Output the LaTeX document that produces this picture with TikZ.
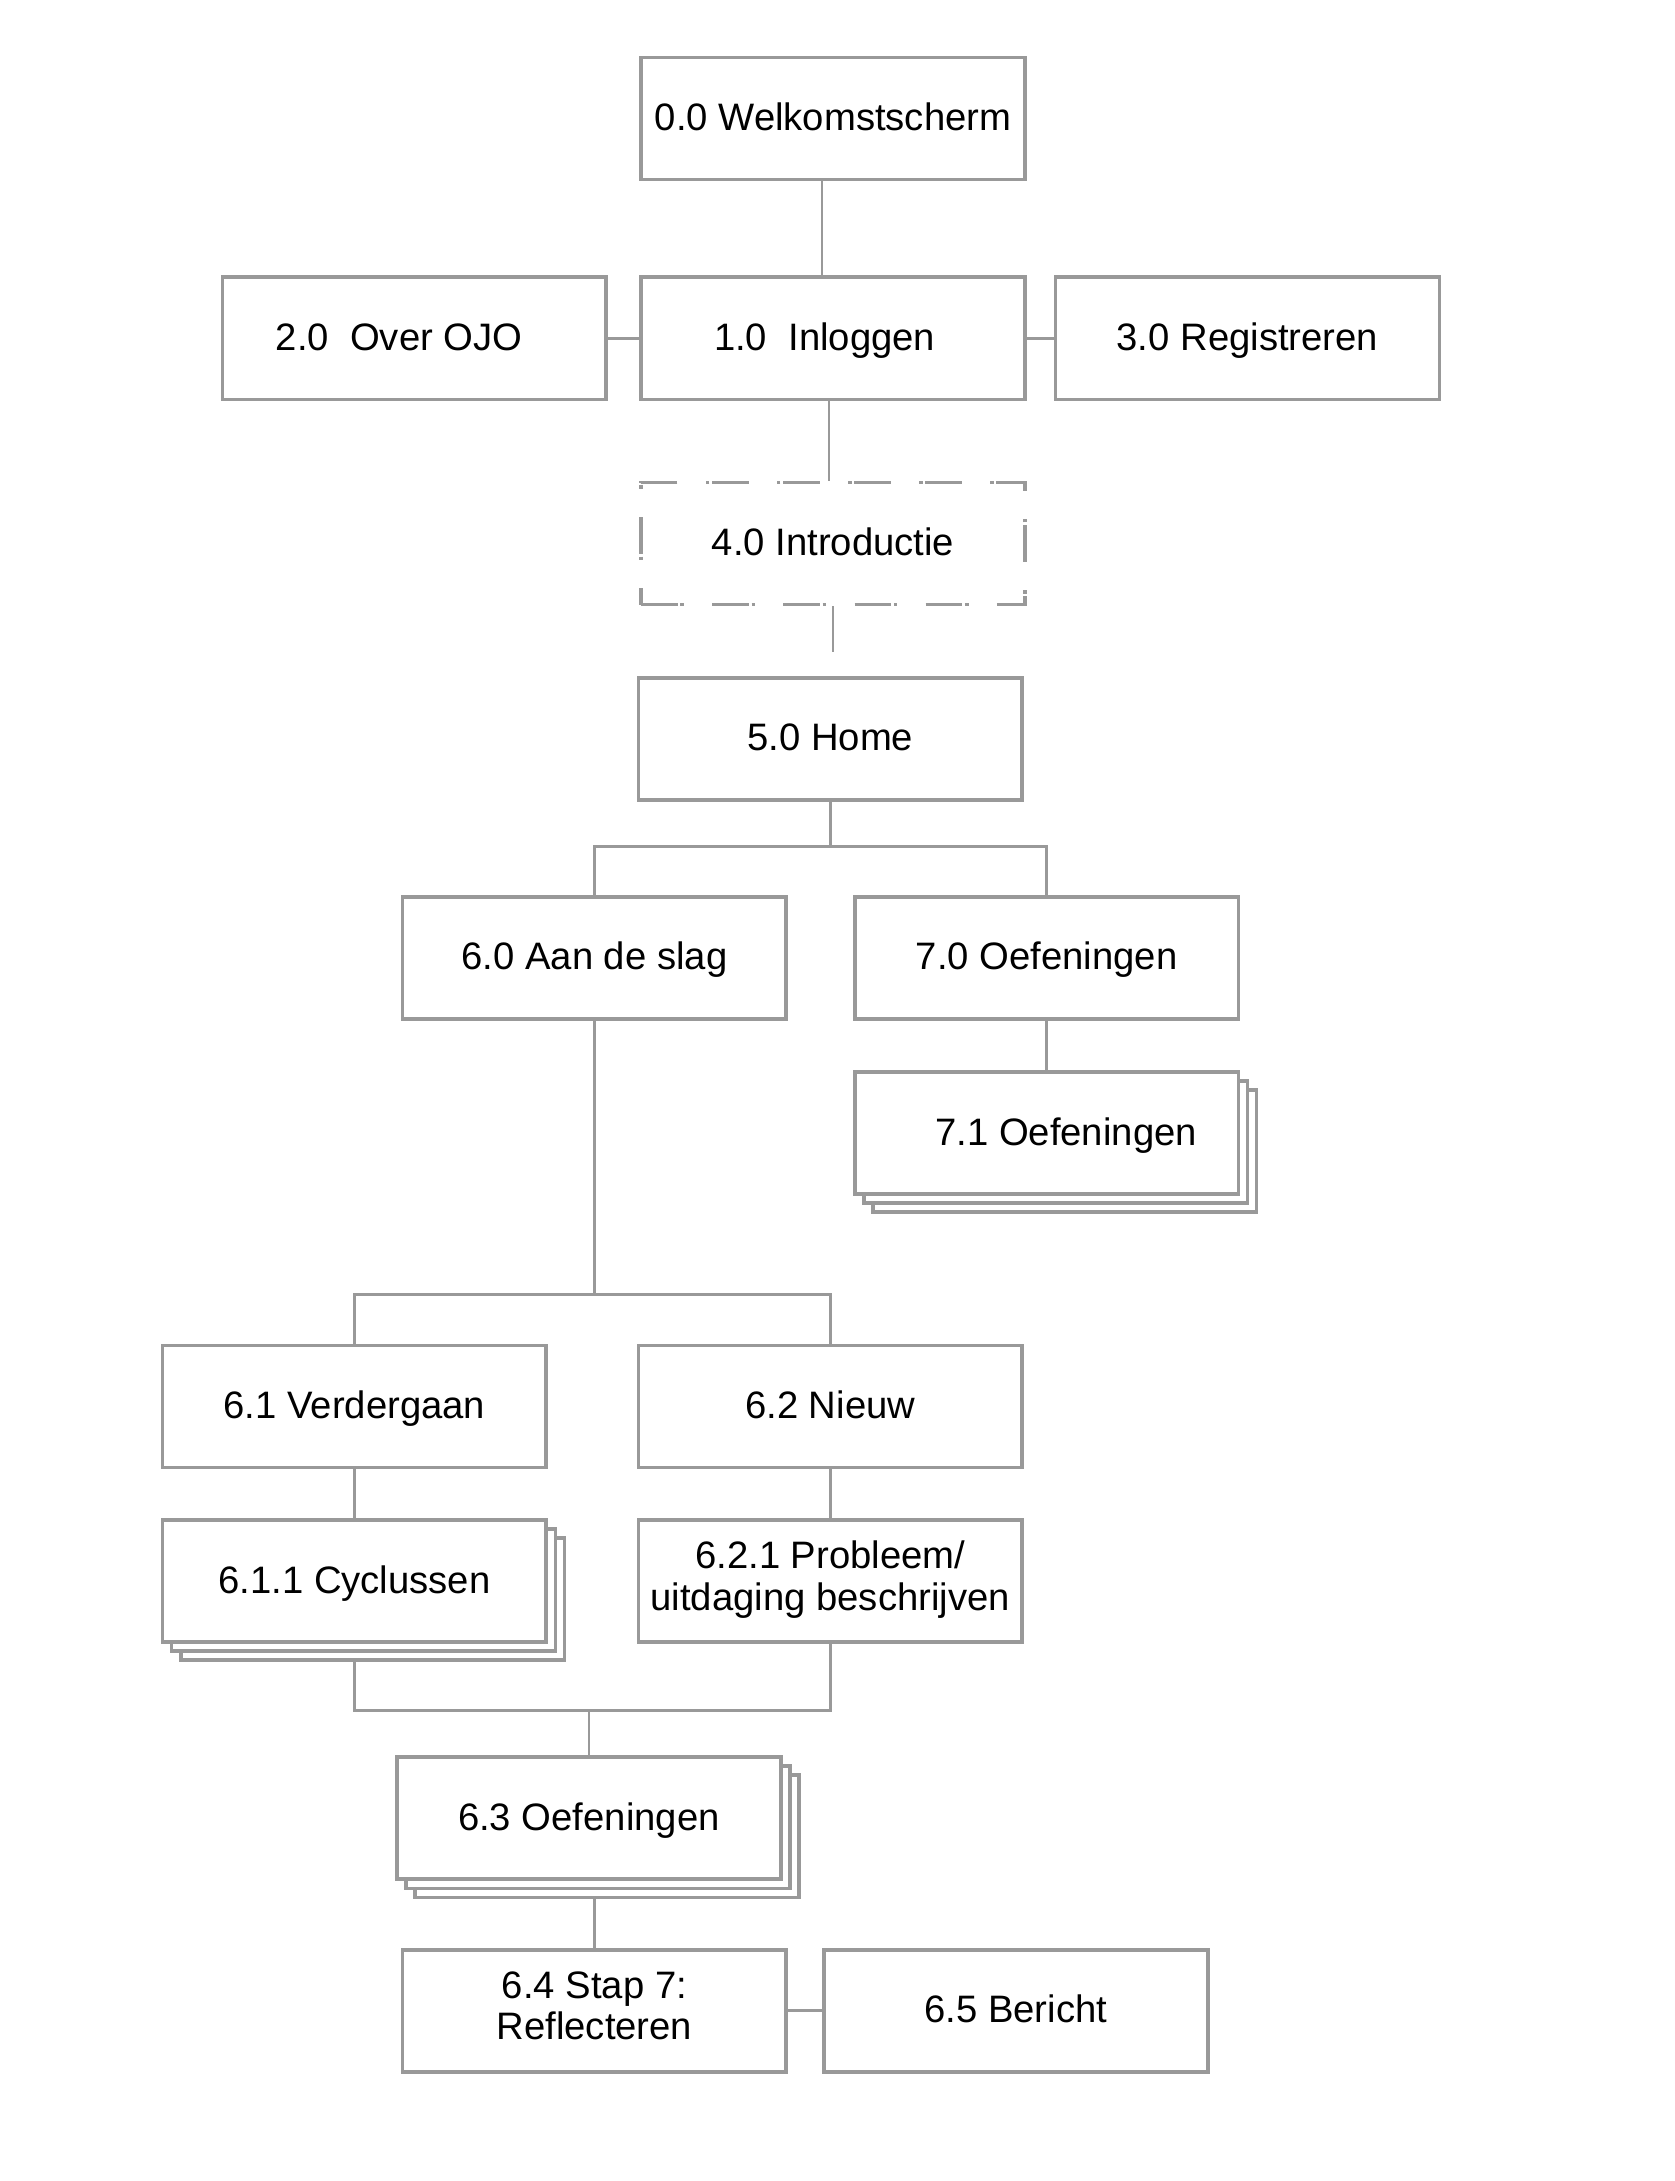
\documentclass[tikz,border=0pt]{standalone}
\usepackage{fontspec}
\setmainfont{Liberation Sans}
\usetikzlibrary{shadows,backgrounds}
\definecolor{boxgray}{RGB}{153,153,153}
\newcommand\boxstrut{\rule[-4.2pt]{0pt}{18.2pt}}
\tikzset{
    box/.style={draw=boxgray, line width=1.5pt, fill=white, minimum width=5.5cm, minimum height=1.75cm, inner sep=0pt, align=center, font=\fontsize{15.6}{17}\selectfont,
        execute at begin node=\boxstrut, execute at end node=\boxstrut},
    stack/.style={box,
        copy shadow={shadow xshift=0.26cm, shadow yshift=-0.26cm, draw=boxgray, line width=1.5pt},
        copy shadow={shadow xshift=0.13cm, shadow yshift=-0.13cm, draw=boxgray, line width=1.5pt}},
    dashbox/.style={box, dash pattern=on 15pt off 1pt on 1.5pt off 11.5pt},
    conn/.style={draw=boxgray, line width=1.1pt}
}
\begin{document}
\begin{tikzpicture}
    \useasboundingbox (0,0) rectangle (24,-31.26);
    \node[box] (00) at (11.94,-1.70) {0.0 Welkomstscherm};
    \node[box] (20) at (5.94,-4.85) {2.0\ \ Over OJO\hspace*{0.44cm}};
    \node[box] (10) at (11.94,-4.85) {1.0\ \ Inloggen\hspace*{0.24cm}};
    \node[box] (30) at (17.88,-4.85) {3.0 Registreren};
    \node[dashbox] (40) at (11.94,-7.79) {4.0 Introductie};
    \node[box] (50) at (11.90,-10.59) {5.0 Home};
    \node[box] (60) at (8.52,-13.73) {6.0 Aan de slag};
    \node[box] (70) at (15.00,-13.73) {7.0 Oefeningen};
    \node[stack] (71) at (15.00,-16.24) {\hspace*{0.56cm}7.1 Oefeningen};
    \node[box] (61) at (5.08,-20.16) {6.1 Verdergaan};
    \node[box] (62) at (11.90,-20.16) {6.2 Nieuw};
    \node[stack] (611) at (5.08,-22.66) {6.1.1 Cyclussen};
    \node[box] (621) at (11.90,-22.66) {6.2.1 Probleem/\\uitdaging beschrijven};
    \node[stack] (63) at (8.44,-26.06) {6.3 Oefeningen};
    \node[box] (64) at (8.52,-28.82) {6.4 Stap 7:\\Reflecteren};
    \node[box] (65) at (14.56,-28.82) {6.5 Bericht};
    \coordinate (gap) at ([yshift=0.34cm]50.north);
    \coordinate (j5) at ([yshift=-0.64cm]50.south);
    \coordinate (j6) at ([yshift=-3.92cm]60.south);
    \coordinate (j63) at ([yshift=0.64cm]63.north);
    \begin{scope}[on background layer]
    \draw[conn] ([xshift=-0.16cm]00.south) -- ([xshift=-0.16cm]10.north);
    \draw[conn] (20.east) -- (10.west);
    \draw[conn] (10.east) -- (30.west);
    \draw[conn] ([xshift=-0.06cm]10.south) -- ([xshift=-0.06cm]40.north);
    \draw[conn] (40.south) -- (40.south |- gap);
    \draw[conn] (50.south) -- (j5);
    \draw[conn] (60.north) |- (j5) -| (70.north);
    \draw[conn] (70.south) -- (71.north);
    \draw[conn] (60.south) -- (j6);
    \draw[conn] (61.north) |- (j6) -| (62.north);
    \draw[conn] (61.south) -- (611.north);
    \draw[conn] (62.south) -- (621.north);
    \draw[conn] (611.south) |- (j63) -| (621.south);
    \draw[conn] (j63) -- (63.north);
    \draw[conn] (64.north |- 63.south) -- (64.north);
    \draw[conn] (64.east) -- (65.west);
    \end{scope}
\end{tikzpicture}
\end{document}
